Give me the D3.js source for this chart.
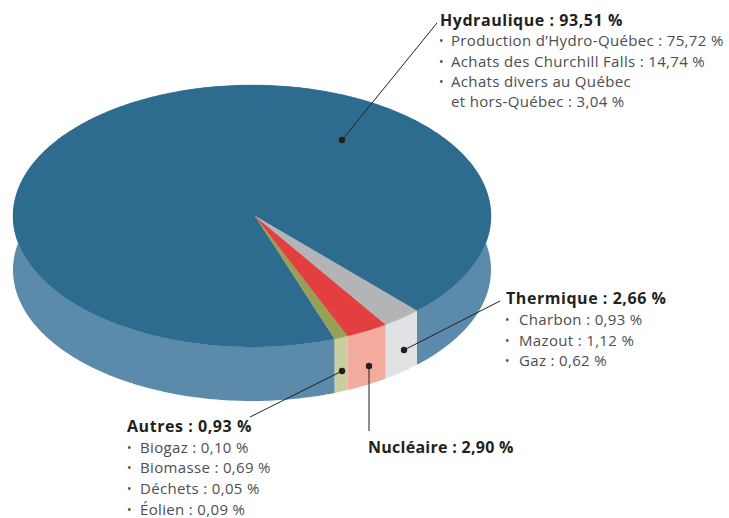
<!DOCTYPE html>
<html>
<head>
<meta charset="utf-8">
<script src="https://cdn.jsdelivr.net/npm/d3@7"></script>
<style>
html, body { margin: 0; padding: 0; background: #fff; }
svg { display: block; }
text { font-family: "Open Sans", sans-serif; }
.head { font-size: 16px; font-weight: 700; fill: #231f20; letter-spacing: 0.55px; }
.head.tight { letter-spacing: 0.27px; }
.sub { font-size: 15px; fill: #4d4d4f; letter-spacing: 0.34px; }
.bullet { font-size: 12px; fill: #4d4d4f; }
.leader { stroke: #231f20; stroke-width: 1; fill: none; }
</style>
</head>
<body>
<script>
// data, pie order starts at the right edge of the small wedges
var categories = ["Thermique", "Nucléaire", "Autres", "Hydraulique"];
var shares = [2.66, 2.90, 0.93, 93.51];
var topColors = ["#b2b4b6", "#e33f41", "#97a155", "#2d6c8e"];
var sideColors = ["#e1e2e3", "#f3ab9d", "#c9cea0", "#5b8aab"];

var hydroHead = "Hydraulique : 93,51 %";
var hydroLines = ["Production d’Hydro-Québec : 75,72 %", "Achats des Churchill Falls : 14,74 %", "Achats divers au Québec", "et hors-Québec : 3,04 %"];
var thermHead = "Thermique : 2,66 %";
var thermLines = ["Charbon : 0,93 %", "Mazout : 1,12 %", "Gaz : 0,62 %"];
var nuclHead = "Nucléaire : 2,90 %";
var otherHead = "Autres : 0,93 %";
var otherLines = ["Biogaz : 0,10 %", "Biomasse : 0,69 %", "Déchets : 0,05 %", "Éolien : 0,09 %"];

var width = 729, height = 518;
var cx = 252, cy = 216, rx = 239, ry = 131, depth = 54;
var apex = [255, 216];

var svg = d3.select("body").append("svg")
    .attr("width", width)
    .attr("height", height);

// the scales squash the unit circle into the tilted disc
var x = d3.scaleLinear().domain([-1, 1]).range([cx - rx, cx + rx]);
var y = d3.scaleLinear().domain([-1, 1]).range([cy - ry, cy + ry]);

var start = 136.4 * Math.PI / 180;
var pie = d3.pie().sort(null).startAngle(start).endAngle(start + 2 * Math.PI);
var slices = pie(shares);

function rim(d) {
    var n = Math.max(2, Math.ceil((d.endAngle - d.startAngle) * 60));
    return d3.range(n + 1).map(function(i) {
        return d.startAngle + (d.endAngle - d.startAngle) * i / n;
    });
}
function px(a) { return x(Math.sin(a)); }
function py(a) { return y(-Math.cos(a)); }

var wall = d3.area()
    .x(px)
    .y0(py)
    .y1(function(a) { return py(a) + depth; });

var topLine = d3.line();

// walls first, hydro goes behind the small ones
svg.append("g").selectAll("path")
    .data(slices.slice().reverse())
    .enter().append("path")
    .attr("d", function(d) { return wall(rim(d)); })
    .attr("fill", function(d) { return sideColors[d.index]; });

svg.append("g").selectAll("path")
    .data(slices.slice().reverse())
    .enter().append("path")
    .attr("data-name", function(d) { return categories[d.index]; })
    .attr("d", function(d) {
        var pts = rim(d).map(function(a) { return [px(a), py(a)]; });
        return topLine([apex].concat(pts)) + "Z";
    })
    .attr("fill", function(d) { return topColors[d.index]; })
    .attr("stroke", function(d) { return topColors[d.index]; })
    .attr("stroke-width", 0.3);

// leaders
function leader(x0, y0, x1, y1) {
    svg.append("line").attr("class", "leader")
        .attr("x1", x0).attr("y1", y0).attr("x2", x1).attr("y2", y1);
    svg.append("circle").attr("cx", x0).attr("cy", y0).attr("r", 3.2).attr("fill", "#231f20");
}
leader(342, 140, 437, 23);
leader(404, 350, 500, 301);
leader(369, 366, 369, 431);
leader(342, 371, 250, 417);

function block(head, lines, xHead, yHead, xBullet, xLine, ys, cls) {
    svg.append("text").attr("class", cls || "head").attr("x", xHead).attr("y", yHead).text(head);
    lines.forEach(function(t, i) {
        svg.append("text").attr("class", "sub").attr("x", xLine).attr("y", ys[i]).text(t);
        if (t.indexOf("et hors") !== 0) {
            svg.append("text").attr("class", "bullet").attr("x", xBullet).attr("y", ys[i] - 1).text("•");
        }
    });
}
block(hydroHead, hydroLines, 440, 26, 439, 451, [46, 67, 87, 107]);
block(thermHead, thermLines, 506, 304, 505, 519, [325, 346, 366]);
block(nuclHead, [], 368, 453, 0, 0, [], "head tight");
block(otherHead, otherLines, 127, 432, 127, 140, [453, 473, 494, 515]);
</script>
</body>
</html>
